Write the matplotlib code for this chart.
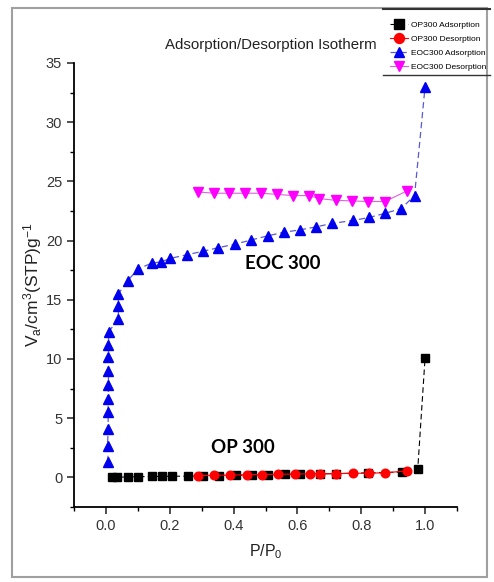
import numpy as np
import matplotlib
matplotlib.use('Agg')
import matplotlib.pyplot as plt
from matplotlib.lines import Line2D
from matplotlib.patches import Rectangle
from matplotlib.ticker import MultipleLocator

plt.rcParams['font.family'] = ['Liberation Sans', 'DejaVu Sans']
plt.rcParams['mathtext.default'] = 'regular'

# OP300 adsorption / desorption
op_ads_p = [0.02, 0.035, 0.07, 0.10, 0.144, 0.175, 0.207, 0.256, 0.303, 0.355, 0.408,
            0.458, 0.507, 0.56, 0.607, 0.67, 0.722, 0.822, 0.927, 0.977, 1.0]
op_ads_v = [0.0, 0.0, 0.05, 0.05, 0.08, 0.08, 0.1, 0.1, 0.12, 0.15, 0.17,
            0.2, 0.22, 0.25, 0.28, 0.3, 0.32, 0.38, 0.45, 0.7, 10.1]
op_des_p = [0.29, 0.34, 0.39, 0.441, 0.49, 0.539, 0.591, 0.638, 0.67, 0.722,
            0.775, 0.825, 0.874, 0.942]
op_des_v = [0.15, 0.18, 0.2, 0.22, 0.24, 0.26, 0.28, 0.3, 0.3, 0.32,
            0.34, 0.36, 0.38, 0.55]

# EOC300 adsorption / desorption
eoc_ads_p = [0.007, 0.005, 0.007, 0.007, 0.007, 0.008, 0.008, 0.008, 0.008, 0.009,
             0.039, 0.039, 0.039, 0.068, 0.10, 0.144, 0.173, 0.202, 0.254, 0.304,
             0.352, 0.405, 0.455, 0.507, 0.557, 0.607, 0.657, 0.709, 0.775, 0.825,
             0.874, 0.925, 0.967, 1.0]
eoc_ads_v = [1.3, 2.65, 4.1, 5.5, 6.6, 7.8, 9.0, 10.2, 11.2, 12.3,
             13.4, 14.5, 15.5, 16.6, 17.6, 18.1, 18.2, 18.5, 18.8, 19.1,
             19.4, 19.7, 20.05, 20.4, 20.7, 20.9, 21.15, 21.45, 21.7, 21.95,
             22.3, 22.7, 23.8, 33.0]
eoc_des_p = [0.29, 0.34, 0.387, 0.437, 0.486, 0.537, 0.586, 0.635, 0.668, 0.72,
             0.771, 0.822, 0.874, 0.944]
eoc_des_v = [24.1, 24.0, 24.0, 24.0, 24.0, 23.9, 23.8, 23.8, 23.55, 23.4,
             23.35, 23.3, 23.3, 24.2]

fig = plt.figure(figsize=(4.94, 5.82), dpi=100)
ax = fig.add_axes([0.1498, 0.1289, 0.7753, 0.7629])

ax.plot(op_ads_p, op_ads_v, color='black', ls='--', lw=0.8, dashes=(5, 3),
        marker='s', ms=5.8, mec='black', label='OP300 Adsorption')
ax.plot(op_des_p, op_des_v, color='red', ls='-', lw=0.8,
        marker='o', ms=6.2, mec='red', label='OP300 Desorption')
ax.plot(eoc_ads_p, eoc_ads_v, color='#5a5ad0', ls='--', lw=0.9, dashes=(5, 3),
        marker='^', ms=6.5, mfc='#0000ee', mec='#0000ee', label='EOC300 Adsorption')
ax.plot(eoc_des_p, eoc_des_v, color='#e060e0', ls='-', lw=0.8,
        marker='v', ms=6.5, mfc='#ff00ff', mec='#ff00ff', label='EOC300 Desorption')

ax.set_xlim(-0.1, 1.1)
ax.set_ylim(-2.5, 35)
ax.xaxis.set_minor_locator(MultipleLocator(0.1))
ax.yaxis.set_major_locator(MultipleLocator(5))
ax.yaxis.set_minor_locator(MultipleLocator(2.5))
ax.set_xticks(np.arange(0, 1.01, 0.2))
ax.set_xticklabels(['0.0', '0.2', '0.4', '0.6', '0.8', '1.0'])
ax.spines['top'].set_visible(False)
ax.spines['right'].set_visible(False)
ax.spines['left'].set_linewidth(1.3)
ax.spines['bottom'].set_linewidth(1.3)
ax.tick_params(which='major', direction='out', length=5, width=1.2,
               labelsize=10.5, colors='#333333')
ax.tick_params(which='minor', direction='out', length=3, width=1.0)

ax.set_xlabel('P/P$_0$', fontsize=11.5, color='#222222', labelpad=7)
ax.set_ylabel('V$_a$/cm$^3$(STP)g$^{-1}$', fontsize=12.5, color='#222222', labelpad=1)

fig.text(165 / 494, 1 - 45 / 582, 'Adsorption/Desorption Isotherm',
         ha='left', va='center', fontsize=10.8, color='#222222')

ax.text(0.555, 18.1, 'EOC 300', fontsize=13.5, fontweight='bold',
        family=['Lato', 'DejaVu Sans'], ha='center', va='center')
ax.text(0.43, 2.5, 'OP 300', fontsize=13.5, fontweight='bold',
        family=['Lato', 'DejaVu Sans'], ha='center', va='center')

leg = fig.legend(loc='center', bbox_to_anchor=(438 / 494, 1 - 46 / 582), frameon=False,
                 fontsize=6, handlelength=2.2, handletextpad=0.3,
                 labelspacing=0.75, borderpad=0.2, markerscale=1.15)

# page frame and legend rules
fig.patches.append(Rectangle((12 / 494, 5 / 582), 475 / 494, 569 / 582,
                             transform=fig.transFigure, fill=False,
                             edgecolor='#a0a0a0', lw=1.5))
fig.add_artist(Line2D([383 / 494, 490 / 494], [1 - 9 / 582, 1 - 9 / 582],
                      color='#333333', lw=1.5))
fig.add_artist(Line2D([383 / 494, 490 / 494], [1 - 75 / 582, 1 - 75 / 582],
                      color='#333333', lw=1.0))

fig.savefig('out.png', dpi=100)
